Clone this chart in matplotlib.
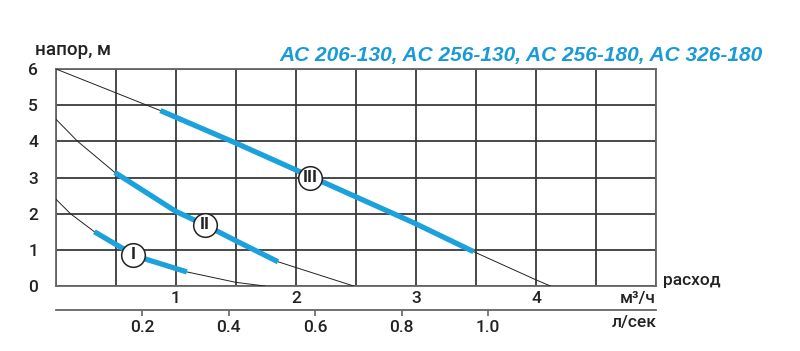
import numpy as np
import matplotlib
matplotlib.use("Agg")
import matplotlib.pyplot as plt
from matplotlib.ticker import MultipleLocator

plt.rcParams['font.family'] = ['Roboto', 'DejaVu Sans']
plt.rcParams['font.weight'] = 'medium'

# pump curves: flow (m3/h) vs head (m)
q_I = [0, 0.12, 0.32, 0.55, 0.74, 1.09, 1.5, 1.74]
h_I = [2.4, 2.0, 1.5, 1.05, 0.75, 0.39, 0.1, 0]
q_II = [0, 0.18, 0.49, 1.0, 1.24, 1.5, 1.85, 2.0, 2.48]
h_II = [4.61, 4.0, 3.14, 2.06, 1.69, 1.25, 0.67, 0.51, 0]
q_III = [0, 0.87, 1.5, 2.12, 2.98, 3.48, 4.0, 4.12]
h_III = [6.0, 4.85, 3.95, 3.03, 1.75, 0.95, 0.17, 0]

# working ranges (index slices into the curves)
blue_I = (2, 6)
blue_II = (2, 7)
blue_III = (1, 6)

# marker positions of the speed labels
labels = ['I', 'II', 'III']
lab_q = [0.64, 1.24, 2.12]
lab_h = [0.86, 1.69, 3.0]

ls_ticks = [0.2, 0.4, 0.6, 0.8, 1.0]
ls_labels = ['0.2', '0.4', '0.6', '0.8', '1.0']

blue = '#1ba1db'
grid_c = '#3a3a3a'
txt_c = '#222222'

fig = plt.figure(figsize=(8, 3.51), dpi=100)
ax = fig.add_axes([0.07, 0.1852, 0.75, 0.6182])
ax.set_xlim(0, 5)
ax.set_ylim(0, 6)

ax.xaxis.set_minor_locator(MultipleLocator(0.5))
ax.yaxis.set_major_locator(MultipleLocator(1))
ax.set_xticks([1, 2, 3, 4])
ax.set_xticklabels(['1', '2', '3', '4'])
ax.grid(which='both', color=grid_c, lw=1.3)
ax.tick_params(which='both', length=0)
ax.tick_params(axis='x', pad=3.5, labelsize=12.5, colors=txt_c)
ax.tick_params(axis='y', pad=13, labelsize=12.5, colors=txt_c)
for s in ax.spines.values():
    s.set_color('#666666')
    s.set_linewidth(1.3)

for q, h, (a, b) in [(q_I, h_I, blue_I), (q_II, h_II, blue_II), (q_III, h_III, blue_III)]:
    ax.plot(q, h, color='#222222', lw=0.7, zorder=3)
    ax.plot(q[a:b], h[a:b], color=blue, lw=3.8, solid_capstyle='butt', zorder=4)

for t, x, y in zip(labels, lab_q, lab_h):
    ax.plot(x, y, 'o', ms=17, mfc='white', mec='#222222', mew=1.1, zorder=5)
    ax.text(x, y, t, ha='center', va='center', fontsize=12.5, fontweight='bold',
            color='#222222', zorder=6)

sec = ax.secondary_xaxis(-0.1106, functions=(lambda x: x / 3.6, lambda x: x * 3.6))
sec.set_xticks(ls_ticks)
sec.set_xticklabels(ls_labels)
sec.tick_params(direction='out', length=4.5, width=1.2, color='#666666', pad=3,
                labelsize=12.5, labelcolor=txt_c)
sec.spines['bottom'].set_color('#666666')
sec.spines['bottom'].set_linewidth(1.3)

fig.text(35 / 800, 1 - 50 / 351, 'напор, м', ha='left', va='center', fontsize=13.5, color=txt_c)
fig.text(763 / 800, 1 - 55 / 351, 'AC 206-130, AC 256-130, AC 256-180, AC 326-180',
         ha='right', va='center', fontsize=15, color='#1a9ad6', fontweight='bold',
         fontstyle='italic', family=['Liberation Sans', 'DejaVu Sans'])
fig.text(663 / 800, 1 - 280 / 351, 'расход', ha='left', va='center', fontsize=12.5, color=txt_c)
fig.text(656 / 800, 1 - 299 / 351, 'м³/ч', ha='right', va='center', fontsize=12.5, color=txt_c)
fig.text(657 / 800, 1 - 322 / 351, 'л/сек', ha='right', va='center', fontsize=12.5, color=txt_c)

fig.savefig('out.png', dpi=100)
